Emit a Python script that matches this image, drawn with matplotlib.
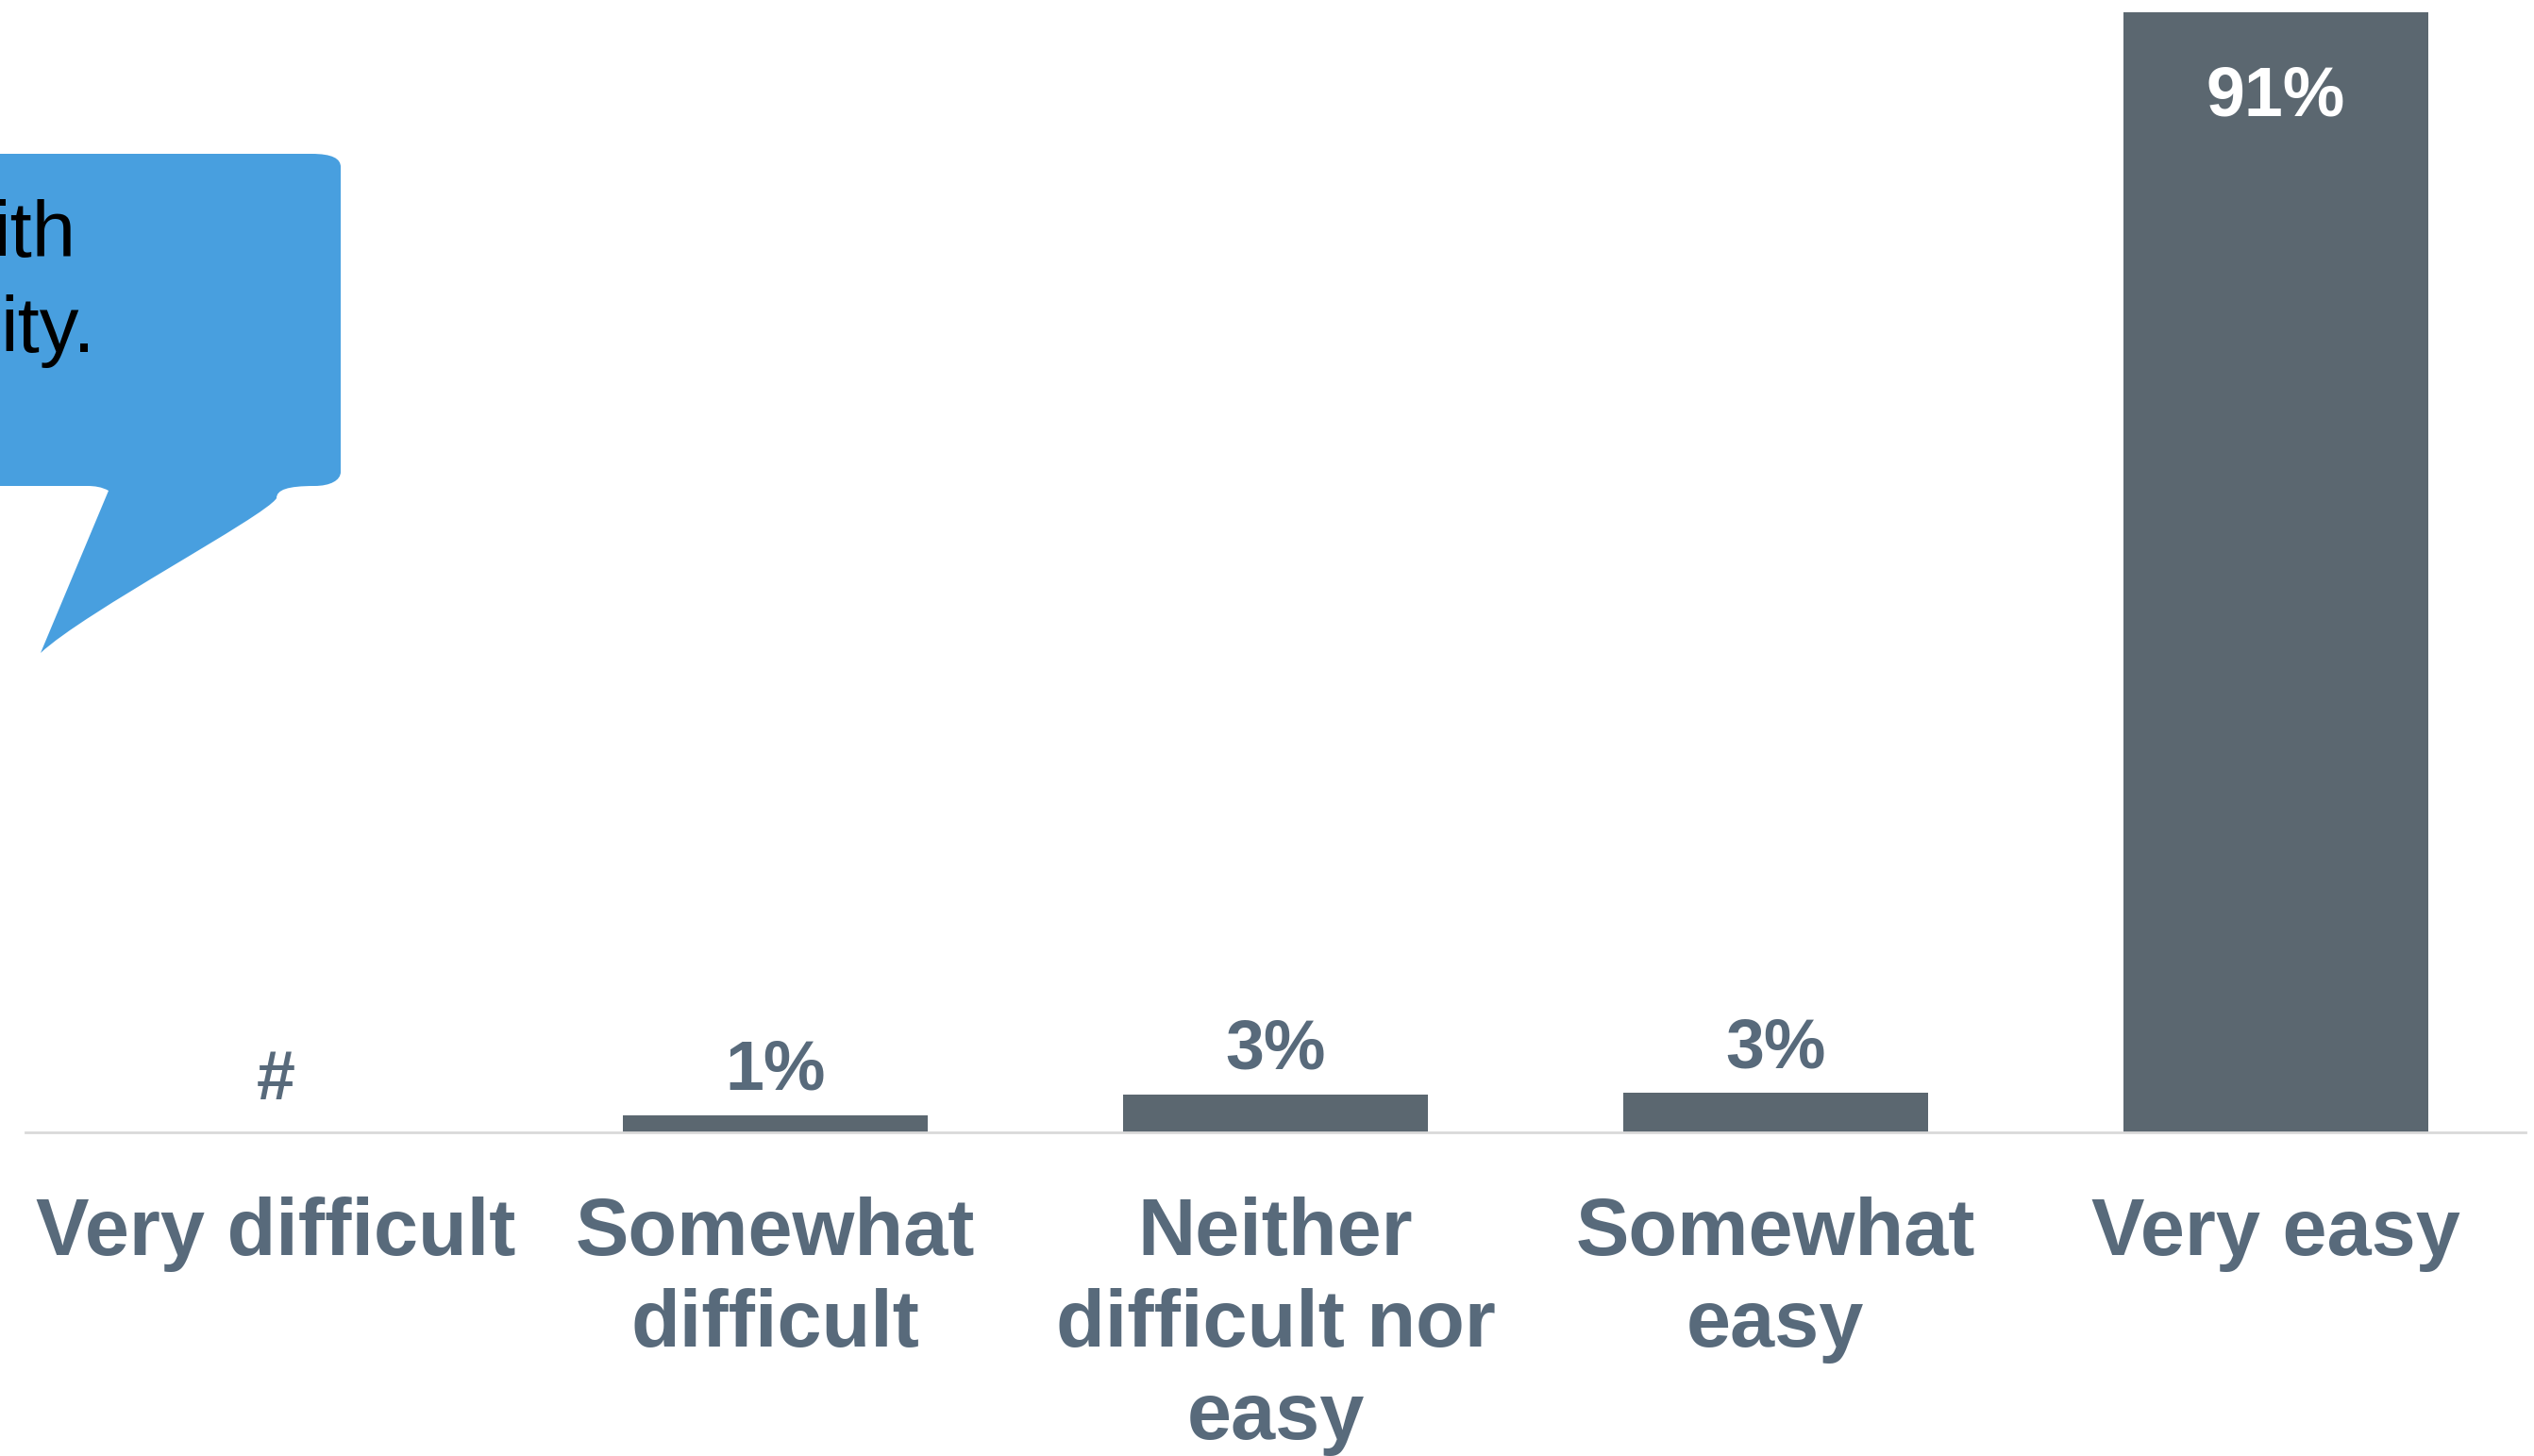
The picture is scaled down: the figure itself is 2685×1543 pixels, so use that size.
import matplotlib
matplotlib.use('Agg')
import matplotlib.pyplot as plt
from matplotlib.path import Path
from matplotlib.patches import PathPatch
from matplotlib.transforms import IdentityTransform

categories = ['Very difficult', 'Somewhat\ndifficult', 'Neither\ndifficult nor\neasy',
              'Somewhat\neasy', 'Very easy']
values = [0, 1.4, 3.1, 3.2, 91]
value_labels = ['#', '1%', '3%', '3%', '91%']
bubble_lines = ['ith', 'ity.']

bar_color = '#5b6770'
text_color = '#586a7b'
bubble_color = '#489fdf'

W, H = 2685, 1543
plt.rcParams['font.family'] = ['Liberation Sans', 'DejaVu Sans']

fig = plt.figure(figsize=(W / 100, H / 100), dpi=100)
ax = fig.add_axes([27 / W, (H - 1200) / H, (2676 - 27) / W, 1200 / H])

x = list(range(len(categories)))
ax.bar(x, values, width=0.61, color=bar_color)
ax.set_xlim(-0.5, 4.5)
ax.set_ylim(0, 92)

for i, (v, lab) in enumerate(zip(values, value_labels)):
    if v > 50:
        # big bar: label sits inside, white
        ax.annotate(lab, (i, v), xytext=(0, -78.5), textcoords='offset points',
                    ha='center', va='baseline', fontsize=53, fontweight='bold', color='white')
    else:
        ax.annotate(lab, (i, v), xytext=(0, 19.4 if v > 0 else 25), textcoords='offset points',
                    ha='center', va='baseline', fontsize=53, fontweight='bold', color=text_color)

ax.set_xticks(x)
ax.set_xticklabels(categories, fontsize=61, fontweight='bold', color=text_color,
                   linespacing=1.28, va='top')
ax.tick_params(axis='x', length=0, pad=49)
ax.set_yticks([])
for s in ['top', 'right', 'left']:
    ax.spines[s].set_visible(False)
ax.spines['bottom'].set_color('#d9d9d9')
ax.spines['bottom'].set_linewidth(2)

# speech bubble, cut off at the left edge (image pixel coords, y down)
def p(px, py):
    return (px, H - py)

verts = [p(-20, 163), p(330, 163),
         p(352, 163), p(361, 168), p(361, 177),
         p(361, 500),
         p(361, 509), p(350, 515), p(333, 515),
         p(305, 515), p(293, 519), p(293, 528),
         p(280, 548), p(90, 648), p(43, 692),
         p(115, 520),
         p(108, 516), p(100, 515), p(93, 515),
         p(-20, 515), p(-20, 163)]
codes = [Path.MOVETO, Path.LINETO,
         Path.CURVE4, Path.CURVE4, Path.CURVE4,
         Path.LINETO,
         Path.CURVE4, Path.CURVE4, Path.CURVE4,
         Path.CURVE4, Path.CURVE4, Path.CURVE4,
         Path.CURVE4, Path.CURVE4, Path.CURVE4,
         Path.LINETO,
         Path.CURVE4, Path.CURVE4, Path.CURVE4,
         Path.LINETO, Path.CLOSEPOLY]
bubble = PathPatch(Path(verts, codes), facecolor=bubble_color, edgecolor='none',
                   transform=IdentityTransform())
fig.patches.append(bubble)

fig.text(80 / W, 1 - 272 / H, bubble_lines[0], ha='right', va='baseline',
         fontsize=60, color='black')
fig.text(101 / W, 1 - 373 / H, bubble_lines[1], ha='right', va='baseline',
         fontsize=60, color='black')

fig.savefig('out.png', dpi=100)
